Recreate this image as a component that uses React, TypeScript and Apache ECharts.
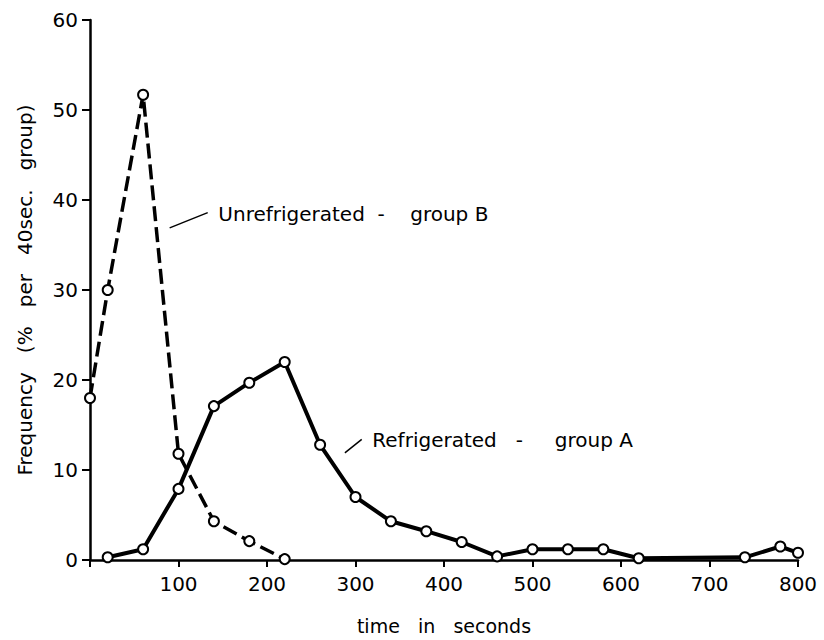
import React, { useEffect, useRef } from "react";
import * as echarts from "echarts";

const xTicks = [0, 100, 200, 300, 400, 500, 600, 700, 800];
const yTicks = [0, 10, 20, 30, 40, 50, 60];

const groupATime = [20, 60, 100, 140, 180, 220, 260, 300, 340, 380, 420, 460, 500, 540, 580, 620, 740, 780, 800];
const groupAFreq = [0.3, 1.2, 7.9, 17.1, 19.7, 22.0, 12.8, 7.0, 4.3, 3.2, 2.0, 0.4, 1.2, 1.2, 1.2, 0.2, 0.3, 1.5, 0.8];

const groupBTime = [0, 20, 60, 100, 140, 180, 220];
const groupBFreq = [18.0, 30.0, 51.7, 11.8, 4.3, 2.1, 0.1];

const labelB = "Unrefrigerated  -    group B";
const labelA = "Refrigerated   -     group A";
const xTitle = "time   in   seconds";
const yTitle = "Frequency   (%   per   40sec.   group)";

const FONT = "'DejaVu Sans', 'Liberation Sans', sans-serif";

export default function App() {
  const ref = useRef<HTMLDivElement>(null);
  useEffect(() => {
    if (!ref.current) return;
    const chart = echarts.init(ref.current, undefined, { renderer: "svg" });
    const seriesStyle = {
      type: "line" as const,
      symbol: "circle",
      symbolSize: 10,
      itemStyle: { color: "#fff", borderColor: "#000", borderWidth: 2 },
      z: 3,
    };
    chart.setOption({
      animation: false,
      backgroundColor: "#fff",
      grid: { left: 90, right: 26, top: 20, bottom: 80 },
      xAxis: {
        type: "value",
        min: xTicks[0],
        max: xTicks[xTicks.length - 1],
        interval: 100,
        splitLine: { show: false },
        axisLine: { show: true, onZero: false, lineStyle: { color: "#000", width: 2.5 } },
        axisTick: { show: true, length: 7, lineStyle: { color: "#000", width: 2 } },
        axisLabel: {
          color: "#000",
          fontSize: 20,
          fontFamily: FONT,
          margin: 14,
          formatter: (v: number) => (v === 0 ? "" : String(v)),
        },
        name: xTitle,
        nameLocation: "middle",
        nameGap: 56,
        nameTextStyle: { color: "#000", fontSize: 19, fontFamily: FONT },
      },
      yAxis: {
        type: "value",
        min: yTicks[0],
        max: yTicks[yTicks.length - 1],
        interval: 10,
        splitLine: { show: false },
        axisLine: { show: true, onZero: false, lineStyle: { color: "#000", width: 2.5 } },
        axisTick: { show: true, length: 8, lineStyle: { color: "#000", width: 2 } },
        axisLabel: { color: "#000", fontSize: 20, fontFamily: FONT, margin: 12 },
        name: yTitle,
        nameLocation: "middle",
        nameRotate: 90,
        nameGap: 55,
        nameTextStyle: { color: "#000", fontSize: 20, fontFamily: FONT },
      },
      series: [
        {
          ...seriesStyle,
          name: "Refrigerated - group A",
          data: groupATime.map((t, i) => [t, groupAFreq[i]]),
          lineStyle: { color: "#000", width: 4, type: "solid" },
        },
        {
          ...seriesStyle,
          name: "Unrefrigerated - group B",
          data: groupBTime.map((t, i) => [t, groupBFreq[i]]),
          lineStyle: { color: "#000", width: 3.5, type: [15, 6] },
        },
      ],
    });

    const px = (x: number, y: number) => chart.convertToPixel({ gridIndex: 0 }, [x, y]) as number[];
    const bL1 = px(90, 36.9), bL2 = px(133, 38.6), bT = px(145, 38.5);
    const aL1 = px(288, 11.9), aL2 = px(307, 13.4), aT = px(319, 13.3);
    chart.setOption({
      graphic: [
        { type: "line", shape: { x1: bL1[0], y1: bL1[1], x2: bL2[0], y2: bL2[1] }, style: { stroke: "#000", lineWidth: 1.5 } },
        { type: "text", x: bT[0], y: bT[1], style: { text: labelB, fill: "#000", fontSize: 20, fontFamily: FONT, verticalAlign: "middle", align: "left" } },
        { type: "line", shape: { x1: aL1[0], y1: aL1[1], x2: aL2[0], y2: aL2[1] }, style: { stroke: "#000", lineWidth: 1.5 } },
        { type: "text", x: aT[0], y: aT[1], style: { text: labelA, fill: "#000", fontSize: 20, fontFamily: FONT, verticalAlign: "middle", align: "left" } },
      ],
    });
    return () => chart.dispose();
  }, []);
  return <div ref={ref} style={{ width: 824, height: 640, position: "absolute", left: 0, top: 0 }} />;
}
